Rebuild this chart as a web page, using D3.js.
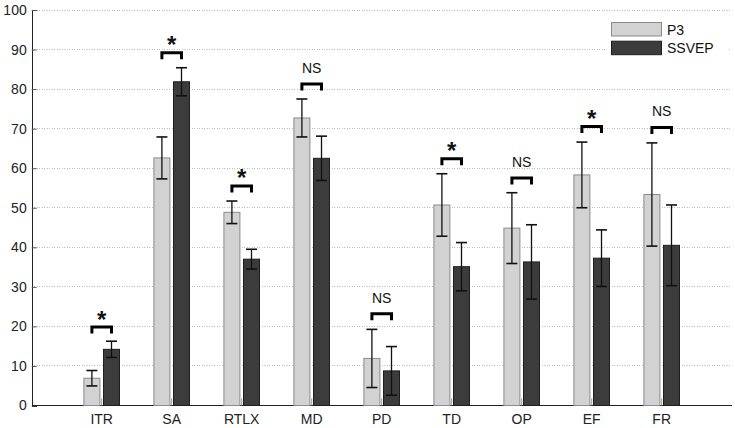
<!DOCTYPE html>
<html>
<head>
<meta charset="utf-8">
<script src="https://cdn.jsdelivr.net/npm/d3@7"></script>
<style>
  html, body { margin: 0; padding: 0; background: #fff; }
  svg { display: block; font-family: "Liberation Sans", Arial, sans-serif; }
</style>
</head>
<body>
<svg id="chart" width="735" height="428"></svg>
<script>
const categories = ["ITR", "SA", "RTLX", "MD", "PD", "TD", "OP", "EF", "FR"];
const seriesNames = ["P3", "SSVEP"];
const p3Mean = [6.9, 62.6, 48.85, 72.7, 11.9, 50.7, 44.85, 58.3, 53.35];
const p3Err = [1.95, 5.3, 2.85, 4.8, 7.35, 7.9, 8.95, 8.3, 13.05];
const ssvepMean = [14.2, 81.85, 37.0, 62.5, 8.75, 35.1, 36.3, 37.25, 40.5];
const ssvepErr = [2.05, 3.55, 2.5, 5.6, 6.15, 6.1, 9.4, 7.15, 10.2];
const significance = ["*", "*", "*", "NS", "NS", "*", "NS", "*", "NS"];
const bracketLevel = [20.2, 89.6, 55.9, 81.7, 23.6, 62.8, 57.9, 70.9, 70.7];
const yTicks = [0, 10, 20, 30, 40, 50, 60, 70, 80, 90, 100];

const svg = d3.select("#chart");
const x = d3.scaleLinear().domain([0, 10]).range([31.7, 731.7]);
const y = d3.scaleLinear().domain([0, 100]).range([405.5, 10]);

const barW = 16, off = 9.8;
const colors = { fill: ["#d2d2d2", "#3c3c3c"], stroke: ["#8a8a8a", "#1e1e1e"] };

// gridlines
svg.append("g").selectAll("line").data(yTicks.filter(d => d > 0)).join("line")
  .attr("x1", x(0)).attr("x2", x(10))
  .attr("y1", d => y(d)).attr("y2", d => y(d))
  .attr("stroke", "#bdbdbd").attr("stroke-width", 1).attr("stroke-dasharray", "1,1.5")
  .attr("shape-rendering", "crispEdges");

// y axis
const yAxis = d3.axisLeft(y).tickValues(yTicks).tickSize(-5).tickPadding(5).tickFormat(d3.format("d"));
const ya = svg.append("g").attr("transform", `translate(${x(0)},0)`).call(yAxis);
ya.select(".domain").attr("stroke", "#222").attr("shape-rendering", "crispEdges");
ya.selectAll(".tick line").attr("stroke", "#555");
ya.selectAll(".tick text").attr("font-size", 14).attr("fill", "#222")
  .attr("font-family", "'Liberation Sans', Arial, sans-serif");

// x axis baseline
svg.append("line").attr("x1", x(0)).attr("x2", x(10)).attr("y1", y(0)).attr("y2", y(0))
  .attr("stroke", "#222").attr("stroke-width", 1).attr("shape-rendering", "crispEdges");

// x labels
svg.append("g").selectAll("text").data(categories).join("text")
  .attr("x", (d, i) => x(i + 1)).attr("y", 423.5)
  .attr("text-anchor", "middle").attr("font-size", 14).attr("fill", "#222")
  .text(d => d);

const series = [p3Mean, ssvepMean];
const errs = [p3Err, ssvepErr];

series.forEach((vals, s) => {
  const dx = s === 0 ? -off : off;
  const g = svg.append("g");
  g.selectAll("rect").data(vals).join("rect")
    .attr("x", (d, i) => x(i + 1) + dx - barW / 2)
    .attr("y", d => y(d))
    .attr("width", barW)
    .attr("height", d => y(0) - y(d))
    .attr("fill", colors.fill[s]).attr("stroke", colors.stroke[s]).attr("stroke-width", 1);
});

// small center artifact lines
svg.append("g").selectAll("line").data(categories).join("line")
  .attr("x1", (d, i) => x(i + 1)).attr("x2", (d, i) => x(i + 1))
  .attr("y1", y(0)).attr("y2", y(1.8))
  .attr("stroke", "#9a9a9a").attr("stroke-width", 1);

// error bars
series.forEach((vals, s) => {
  const dx = s === 0 ? -off : off;
  const g = svg.append("g").attr("stroke", "#111").attr("stroke-width", 1.3);
  vals.forEach((m, i) => {
    const cx = x(i + 1) + dx, e = errs[s][i];
    g.append("line").attr("x1", cx).attr("x2", cx).attr("y1", y(m + e)).attr("y2", y(m - e));
    g.append("line").attr("x1", cx - 5.5).attr("x2", cx + 5.5).attr("y1", y(m + e)).attr("y2", y(m + e)).attr("stroke-width", 1.6);
    g.append("line").attr("x1", cx - 5.5).attr("x2", cx + 5.5).attr("y1", y(m - e)).attr("y2", y(m - e)).attr("stroke-width", 1.6);
  });
});

// significance brackets
const bg = svg.append("g");
bracketLevel.forEach((lv, i) => {
  const x1 = x(i + 1) - off, x2 = x(i + 1) + off, yt = y(lv) + 1.5;
  bg.append("path")
    .attr("d", `M${x1},${yt + 6.5} V${yt} H${x2} V${yt + 6.5}`)
    .attr("fill", "none").attr("stroke", "#000").attr("stroke-width", 3);
  const star = significance[i] === "*";
  bg.append("text")
    .attr("x", x(i + 1)).attr("y", star ? y(lv) + 2 : y(lv) - 9.5)
    .attr("text-anchor", "middle")
    .attr("font-size", star ? 24 : 14)
    .attr("font-weight", star ? "bold" : "normal")
    .attr("fill", "#111")
    .text(significance[i]);
});

// legend
const lg = svg.append("g");
lg.append("rect").attr("x", 605).attr("y", 17).attr("width", 124).attr("height", 44).attr("fill", "#fff");
seriesNames.forEach((n, s) => {
  lg.append("rect").attr("x", 611.5).attr("y", 22.5 + s * 18.7).attr("width", 50).attr("height", 13.5)
    .attr("fill", colors.fill[s]).attr("stroke", colors.stroke[s]).attr("stroke-width", 1);
  lg.append("text").attr("x", 667).attr("y", 34.5 + s * 18.7).attr("font-size", 14).attr("fill", "#111").text(n);
});
</script>
</body>
</html>
